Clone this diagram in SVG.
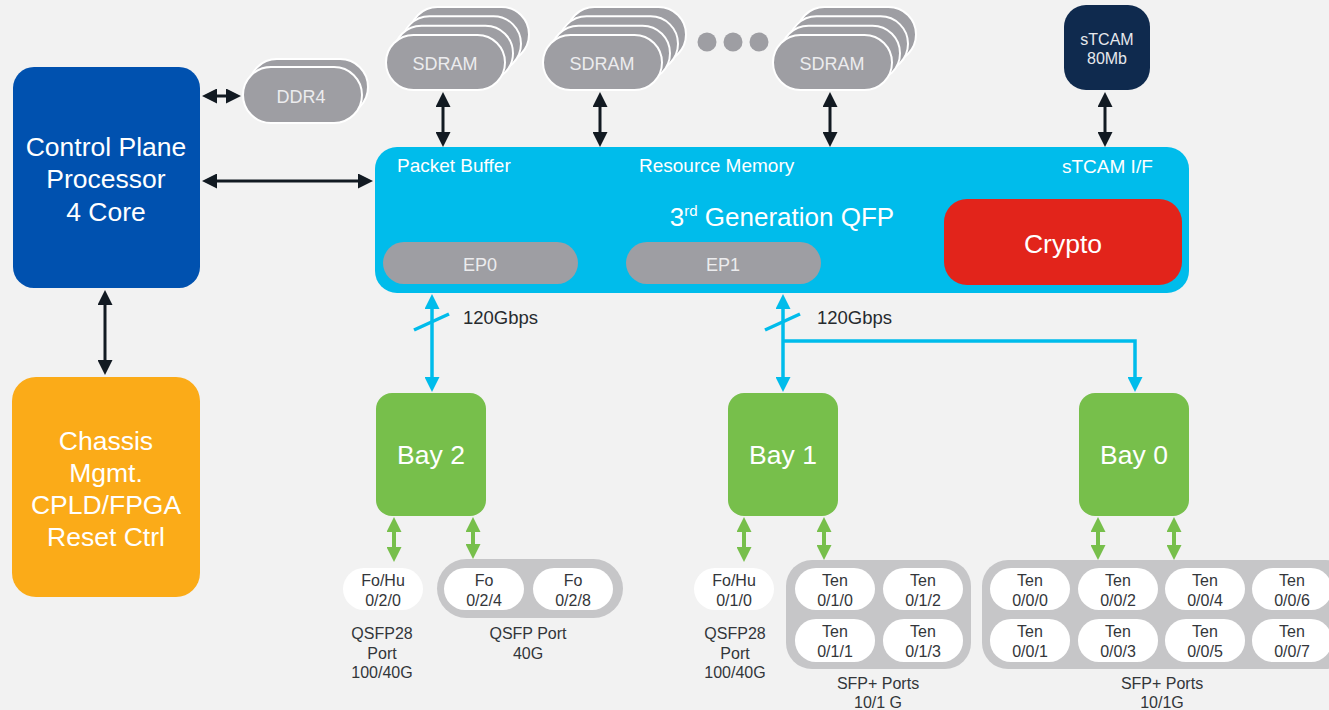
<svg xmlns="http://www.w3.org/2000/svg" width="1329" height="710" viewBox="0 0 1329 710">
<style>
text{font-family:"Liberation Sans",Arial,sans-serif}
.w{fill:#ffffff}
.big{font-size:26.5px;text-anchor:middle;fill:#ffffff}
.mem{font-size:18px;text-anchor:middle;fill:#ececee}
.qfp{font-size:19px;fill:#ffffff}
.lbl{font-size:18.5px;fill:#262a2e}
.pt{font-size:16px;text-anchor:middle;fill:#33363a}
.cap{font-size:16px;text-anchor:middle;fill:#33363a}
.pill{fill:#9e9ea3;stroke:#ffffff;stroke-width:2}
.port{fill:#ffffff}
.cont{fill:#c6c6c8}
.bk{stroke:#121a22;stroke-width:3;fill:none;marker-start:url(#mb);marker-end:url(#mb)}
.bl{stroke:#00bceb;stroke-width:3.5;fill:none}
.gr{stroke:#77bf4b;stroke-width:4;fill:none;marker-start:url(#mg);marker-end:url(#mg)}
</style>
<defs>
<marker id="mb" viewBox="0 0 15 15" markerUnits="userSpaceOnUse" markerWidth="15" markerHeight="15" refX="11" refY="7.5" orient="auto-start-reverse"><path d="M0,0 L15,7.5 L0,15 z" fill="#121a22"/></marker>
<marker id="mc" viewBox="0 0 15 15" markerUnits="userSpaceOnUse" markerWidth="15" markerHeight="15" refX="11" refY="7.5" orient="auto-start-reverse"><path d="M0,0 L15,7.5 L0,15 z" fill="#00bceb"/></marker>
<marker id="mg" viewBox="0 0 15 15" markerUnits="userSpaceOnUse" markerWidth="15" markerHeight="15" refX="11" refY="7.5" orient="auto-start-reverse"><path d="M0,0 L15,7.5 L0,15 z" fill="#77bf4b"/></marker>
<g id="sdram-shape">
<rect class="pill" x="24" y="-28" width="119" height="55" rx="27.5"/>
<rect class="pill" x="16" y="-18.7" width="119" height="55" rx="27.5"/>
<rect class="pill" x="8" y="-9.3" width="119" height="55" rx="27.5"/>
<rect class="pill" x="0" y="0" width="119" height="55" rx="27.5"/>
</g>
</defs>
<rect x="0" y="0" width="1329" height="710" fill="#f2f2f2"/>

<g id="connectors">
<line class="bk" x1="105" y1="294" x2="105" y2="371"/>
<line class="bk" x1="206" y1="96" x2="237" y2="96"/>
<line class="bk" x1="206" y1="181" x2="369" y2="181"/>
<line class="bk" x1="443" y1="96" x2="443" y2="143"/>
<line class="bk" x1="600" y1="96" x2="600" y2="143"/>
<line class="bk" x1="830" y1="96" x2="830" y2="143"/>
<line class="bk" x1="1105" y1="96" x2="1105" y2="143"/>
<line class="bl" x1="432" y1="298" x2="432" y2="388" marker-start="url(#mc)" marker-end="url(#mc)"/>
<line class="bl" x1="414" y1="330" x2="449" y2="314"/>
<line class="bl" x1="783" y1="298" x2="783" y2="388" marker-start="url(#mc)" marker-end="url(#mc)"/>
<line class="bl" x1="765" y1="330" x2="800" y2="314"/>
<path class="bl" d="M783,341 H1135 V388" marker-end="url(#mc)"/>
<line class="gr" x1="394" y1="521" x2="394" y2="558"/>
<line class="gr" x1="473" y1="521" x2="473" y2="555"/>
<line class="gr" x1="744" y1="521" x2="744" y2="558"/>
<line class="gr" x1="824" y1="521" x2="824" y2="556"/>
<line class="gr" x1="1098" y1="521" x2="1098" y2="556"/>
<line class="gr" x1="1174" y1="521" x2="1174" y2="556"/>
<text class="lbl" x="463" y="324">120Gbps</text>
<text class="lbl" x="817" y="324">120Gbps</text>
</g>

<g id="cpp">
<rect x="13" y="67" width="187" height="221" rx="21" fill="#0051af"/>
<text class="big" x="106" y="156">Control Plane</text>
<text class="big" x="106" y="188">Processor</text>
<text class="big" x="106" y="221">4 Core</text>
</g>

<g id="chassis">
<rect x="12" y="377" width="188" height="220" rx="24" fill="#fbab18"/>
<text class="big" x="106" y="450">Chassis</text>
<text class="big" x="106" y="482">Mgmt.</text>
<text class="big" x="106" y="514">CPLD/FPGA</text>
<text class="big" x="106" y="546">Reset Ctrl</text>
</g>

<g id="ddr4">
<rect class="pill" x="249" y="59" width="119" height="56" rx="28"/>
<rect class="pill" x="243" y="67" width="119" height="56" rx="28"/>
<text class="mem" x="301" y="103">DDR4</text>
</g>

<g id="sdram1">
<use href="#sdram-shape" x="386" y="35"/>
<text class="mem" x="445" y="70">SDRAM</text>
</g>
<g id="sdram2">
<use href="#sdram-shape" x="543" y="35"/>
<text class="mem" x="602" y="70">SDRAM</text>
</g>
<g id="dots">
<circle cx="707" cy="42" r="9.5" fill="#9e9ea3"/>
<circle cx="733" cy="42" r="9.5" fill="#9e9ea3"/>
<circle cx="759" cy="42" r="9.5" fill="#9e9ea3"/>
</g>
<g id="sdram3">
<use href="#sdram-shape" x="773" y="35"/>
<text class="mem" x="832" y="70">SDRAM</text>
</g>

<g id="stcam">
<rect x="1064" y="5" width="86" height="85" rx="22" fill="#0f2a4e"/>
<text x="1107" y="45" font-size="16" text-anchor="middle" fill="#e6e8ec">sTCAM</text>
<text x="1107" y="64" font-size="16" text-anchor="middle" fill="#e6e8ec">80Mb</text>
</g>

<g id="qfp">
<rect x="375" y="147" width="814" height="146" rx="22" fill="#00bceb"/>
<text class="qfp" x="397" y="172">Packet Buffer</text>
<text class="qfp" x="639" y="172">Resource Memory</text>
<text class="qfp" x="1062" y="173">sTCAM I/F</text>
<text x="782" y="226" font-size="26" text-anchor="middle" fill="#ffffff">3<tspan font-size="15" dy="-10">rd</tspan><tspan dy="10"> Generation QFP</tspan></text>
</g>
<g id="ep0">
<rect x="383" y="242" width="195" height="42" rx="21" fill="#9e9ea3"/>
<text class="mem" x="480" y="271">EP0</text>
</g>
<g id="ep1">
<rect x="626" y="242" width="195" height="42" rx="21" fill="#9e9ea3"/>
<text class="mem" x="723" y="271">EP1</text>
</g>
<g id="crypto">
<rect x="944" y="199" width="238" height="86" rx="23" fill="#e2241b"/>
<text class="big" x="1063" y="253">Crypto</text>
</g>

<g id="bay2">
<rect x="376" y="393" width="110" height="123" rx="16" fill="#77bf4b"/>
<text class="big" x="431" y="464">Bay 2</text>
</g>
<g id="bay1">
<rect x="728" y="393" width="110" height="123" rx="16" fill="#77bf4b"/>
<text class="big" x="783" y="464">Bay 1</text>
</g>
<g id="bay0">
<rect x="1079" y="393" width="110" height="123" rx="16" fill="#77bf4b"/>
<text class="big" x="1134" y="464">Bay 0</text>
</g>

<g id="bay2-ports">
<rect class="port" x="343" y="568" width="80" height="42" rx="21"/>
<text class="pt" x="383" y="586">Fo/Hu</text><text class="pt" x="383" y="606">0/2/0</text>
<text class="cap" x="382" y="639">QSFP28</text><text class="cap" x="382" y="659">Port</text><text class="cap" x="382" y="678">100/40G</text>
<rect class="cont" x="437" y="559" width="186" height="59" rx="29.5"/>
<rect class="port" x="444" y="568" width="80" height="42" rx="21"/>
<text class="pt" x="484" y="586">Fo</text><text class="pt" x="484" y="606">0/2/4</text>
<rect class="port" x="533" y="568" width="80" height="42" rx="21"/>
<text class="pt" x="573" y="586">Fo</text><text class="pt" x="573" y="606">0/2/8</text>
<text class="cap" x="528" y="639">QSFP Port</text><text class="cap" x="528" y="659">40G</text>
</g>

<g id="bay1-ports">
<rect class="port" x="694" y="568" width="80" height="42" rx="21"/>
<text class="pt" x="734" y="586">Fo/Hu</text><text class="pt" x="734" y="606">0/1/0</text>
<text class="cap" x="735" y="639">QSFP28</text><text class="cap" x="735" y="659">Port</text><text class="cap" x="735" y="678">100/40G</text>
<rect class="cont" x="786" y="560" width="185" height="109" rx="26"/>
<rect class="port" x="795" y="568" width="80" height="42" rx="21"/>
<text class="pt" x="835" y="586">Ten</text><text class="pt" x="835" y="606">0/1/0</text>
<rect class="port" x="883" y="568" width="80" height="42" rx="21"/>
<text class="pt" x="923" y="586">Ten</text><text class="pt" x="923" y="606">0/1/2</text>
<rect class="port" x="795" y="619" width="80" height="43" rx="21"/>
<text class="pt" x="835" y="637">Ten</text><text class="pt" x="835" y="657">0/1/1</text>
<rect class="port" x="883" y="619" width="80" height="43" rx="21"/>
<text class="pt" x="923" y="637">Ten</text><text class="pt" x="923" y="657">0/1/3</text>
<text class="cap" x="878" y="689">SFP+ Ports</text><text class="cap" x="878" y="708">10/1 G</text>
</g>

<g id="bay0-ports">
<rect class="cont" x="982" y="560" width="370" height="109" rx="26"/>
<rect class="port" x="990" y="568" width="80" height="42" rx="21"/>
<text class="pt" x="1030" y="586">Ten</text><text class="pt" x="1030" y="606">0/0/0</text>
<rect class="port" x="1078" y="568" width="80" height="42" rx="21"/>
<text class="pt" x="1118" y="586">Ten</text><text class="pt" x="1118" y="606">0/0/2</text>
<rect class="port" x="1165" y="568" width="80" height="42" rx="21"/>
<text class="pt" x="1205" y="586">Ten</text><text class="pt" x="1205" y="606">0/0/4</text>
<rect class="port" x="1252" y="568" width="80" height="42" rx="21"/>
<text class="pt" x="1292" y="586">Ten</text><text class="pt" x="1292" y="606">0/0/6</text>
<rect class="port" x="990" y="619" width="80" height="43" rx="21"/>
<text class="pt" x="1030" y="637">Ten</text><text class="pt" x="1030" y="657">0/0/1</text>
<rect class="port" x="1078" y="619" width="80" height="43" rx="21"/>
<text class="pt" x="1118" y="637">Ten</text><text class="pt" x="1118" y="657">0/0/3</text>
<rect class="port" x="1165" y="619" width="80" height="43" rx="21"/>
<text class="pt" x="1205" y="637">Ten</text><text class="pt" x="1205" y="657">0/0/5</text>
<rect class="port" x="1252" y="619" width="80" height="43" rx="21"/>
<text class="pt" x="1292" y="637">Ten</text><text class="pt" x="1292" y="657">0/0/7</text>
<text class="cap" x="1162" y="689">SFP+ Ports</text><text class="cap" x="1162" y="708">10/1G</text>
</g>
</svg>
